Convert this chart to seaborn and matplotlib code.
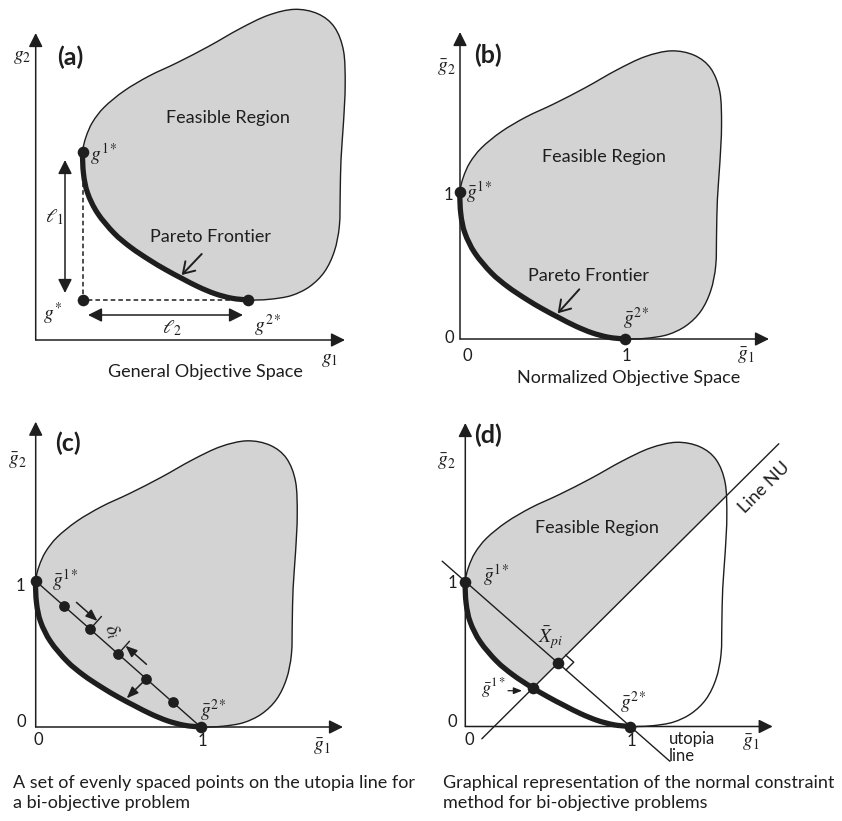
import numpy as np
import matplotlib
matplotlib.use("Agg")
import matplotlib.pyplot as plt
from matplotlib.path import Path
from matplotlib.patches import PathPatch, Polygon
import seaborn as sns

W, H = 842, 821

# feasible region boundary (normalized objective space), from g1* (0,1) over the top to g2* (1,0)
upper_x = [0.0, 0.02, 0.06, 0.13, 0.25, 0.40, 0.57, 0.76, 0.95, 1.12, 1.28, 1.42, 1.52,
           1.575, 1.585, 1.575, 1.56, 1.555, 1.55, 1.52, 1.46, 1.37, 1.26, 1.14, 1.05, 1.0]
upper_y = [1.0, 1.10, 1.20, 1.30, 1.41, 1.51, 1.60, 1.71, 1.83, 1.92, 1.96, 1.93, 1.84,
           1.68, 1.45, 1.20, 0.95, 0.72, 0.50, 0.33, 0.19, 0.09, 0.03, 0.006, 0.0, 0.0]
# pareto frontier, from g2* back to g1*
pareto_x = [1.0, 0.9, 0.8, 0.7, 0.6, 0.5, 0.4, 0.29, 0.19, 0.09, 0.03, 0.005, 0.0]
pareto_y = [0.0, 0.012, 0.042, 0.088, 0.145, 0.205, 0.272, 0.355, 0.45, 0.585, 0.72, 0.85, 1.0]

anchor_x = [0.0, 1.0]          # g1*, g2*
anchor_y = [1.0, 0.0]
ideal_x = [0.0]                # g* in panel (a)
ideal_y = [0.0]
utopia_pts_x = [0.17, 0.33, 0.50, 0.67, 0.83]
utopia_pts_y = [0.83, 0.67, 0.50, 0.33, 0.17]
utopia_ext_x = [-0.14, 1.24]
utopia_ext_y = [1.14, -0.24]
nu_x = [0.10, 1.90]
nu_y = [-0.085, 1.95]
xpi_x, xpi_y = [0.56], [0.44]
g1nu_x, g1nu_y = [0.41], [0.265]

INK = "#1e1e1e"
GRAY = "#d3d3d3"
FS = 13

sns.set_theme(style="white")
plt.rcParams["font.family"] = ["Lato", "DejaVu Sans"]
plt.rcParams["mathtext.fontset"] = "stix"

# panel box (px) and where the data origin / unit sit in pixels
panels = {
    "a": dict(box=(0, 0, 421, 410), origin=(82.7, 300), unit=(165.6, 148.3)),
    "b": dict(box=(421, 0, 421, 410), origin=(460, 339), unit=(165, 147)),
    "c": dict(box=(0, 410, 421, 411), origin=(35.7, 727), unit=(165, 146)),
    "d": dict(box=(421, 410, 421, 411), origin=(465.3, 726.5), unit=(165, 145)),
}


def to_data(k, px, py):
    ox, oy = panels[k]["origin"]
    ux, uy = panels[k]["unit"]
    return (px - ox) / ux, (oy - py) / uy


def to_px(k, x, y):
    ox, oy = panels[k]["origin"]
    ux, uy = panels[k]["unit"]
    return ox + x * ux, oy - y * uy


def bezier_segments(xs, ys):
    p = np.column_stack([xs, ys]).astype(float)
    n = len(p)
    segs = []
    for i in range(n):
        p0, p1, p2, p3 = p[(i - 1) % n], p[i], p[(i + 1) % n], p[(i + 2) % n]
        segs.append((p1, p1 + (p2 - p0) / 6, p2 - (p3 - p1) / 6, p2))
    return segs


def make_path(segs):
    verts = [segs[0][0]]
    codes = [Path.MOVETO]
    for s in segs:
        verts += [s[1], s[2], s[3]]
        codes += [Path.CURVE4] * 3
    return Path(verts, codes)


loop_x = upper_x + pareto_x[1:-1]
loop_y = upper_y + pareto_y[1:-1]
segs = bezier_segments(loop_x, loop_y)
outline_path = make_path(segs)
pareto_path = make_path(segs[len(upper_x) - 1:])

fig = plt.figure(figsize=(W / 100, H / 100), dpi=100)
axes = {}
for k, p in panels.items():
    bx, by, bw, bh = p["box"]
    ax = fig.add_axes([bx / W, 1 - (by + bh) / H, bw / W, bh / H])
    x0, y1 = to_data(k, bx, by)
    x1, y0 = to_data(k, bx + bw, by + bh)
    ax.set_xlim(x0, x1)
    ax.set_ylim(y0, y1)
    ax.axis("off")
    axes[k] = ax


def draw_region(ax, clip=None):
    fill = PathPatch(outline_path, facecolor=GRAY, edgecolor="none", zorder=1)
    ax.add_patch(fill)
    if clip is not None:
        fill.set_clip_path(clip)
    ax.add_patch(PathPatch(outline_path, facecolor="none", edgecolor=INK, lw=1.0, zorder=2))
    ax.add_patch(PathPatch(pareto_path, facecolor="none", edgecolor=INK, lw=3.8,
                           capstyle="round", zorder=4))


def arrow(ax, k, p_from, p_to, style="-|>,head_length=0.6,head_width=0.3", lw=1.1, ms=14):
    ax.annotate("", xy=to_data(k, *p_to), xytext=to_data(k, *p_from),
                arrowprops=dict(arrowstyle=style, color=INK, lw=lw, shrinkA=0, shrinkB=0,
                                mutation_scale=ms), zorder=6)


def axis_arrows(ax, k, corner, ytip, xtip):
    arrow(ax, k, corner, (corner[0], ytip))
    arrow(ax, k, corner, (xtip, corner[1]))


def label(px, py, s, size=FS, **kw):
    kw.setdefault("ha", "center")
    kw.setdefault("va", "center")
    fig.text(px / W, 1 - py / H, s, fontsize=size, color=INK, **kw)


def dots(ax, xs, ys, s=70):
    sns.scatterplot(x=xs, y=ys, ax=ax, color=INK, s=s, linewidth=0, zorder=5, legend=False)


def line(ax, xs, ys, **kw):
    sns.lineplot(x=xs, y=ys, ax=ax, color=INK, sort=False, estimator=None, zorder=3, **kw)


PARETO_ARROW = "->,head_length=0.55,head_width=0.35"

# ---------------- (a) ----------------
ax = axes["a"]
draw_region(ax)
line(ax, [0.0, 0.0, 1.0], [1.0, 0.0, 0.0], lw=1.1, linestyle=(0, (3, 2)))
dots(ax, anchor_x, anchor_y)
dots(ax, ideal_x, ideal_y)
axis_arrows(ax, "a", (35.7, 340), 33, 345)
arrow(ax, "a", (65, 160), (65, 293), style="<|-|>,head_length=0.6,head_width=0.3")
arrow(ax, "a", (88, 315), (243, 315), style="<|-|>,head_length=0.6,head_width=0.3")
arrow(ax, "a", (201.7, 254), (181.7, 275), style=PARETO_ARROW, lw=1.4)
label(70, 57, "(a)", 18, weight="bold")
label(22, 57, r"$g_2$", 14)
label(330, 360, r"$g_1$", 14)
label(228, 118, "Feasible Region")
label(210, 237, "Pareto Frontier")
label(205, 372, "General Objective Space")
label(90, 154, r"$g^{1*}$", 14, ha="left")
label(52, 314, r"$g^{*}$", 14)
label(268, 326, r"$g^{2*}$", 14)
label(54, 217, r"$\ell_1$", 14)
label(172, 328, r"$\ell_2$", 14)

# ---------------- (b) ----------------
ax = axes["b"]
draw_region(ax)
dots(ax, anchor_x, anchor_y)
axis_arrows(ax, "b", (460, 339), 32, 769)
arrow(ax, "b", (579.3, 289.3), (557.7, 313.3), style=PARETO_ARROW, lw=1.4)
label(488, 55, "(b)", 18, weight="bold")
label(446, 68, r"$\bar{g}_2$", 14)
label(448, 195, "1", 12)
label(449, 338, "0", 12)
label(467, 356, "0", 12)
label(626, 356, "1", 12)
label(746, 356, r"$\bar{g}_1$", 14)
label(466, 192, r"$\bar{g}^{1*}$", 14, ha="left")
label(636, 319, r"$\bar{g}^{2*}$", 14)
label(604, 157, "Feasible Region")
label(588, 276, "Pareto Frontier")
label(629, 378, "Normalized Objective Space")

# ---------------- (c) ----------------
ax = axes["c"]
draw_region(ax)
line(ax, anchor_x, anchor_y, lw=1.0)
dots(ax, anchor_x, anchor_y)
dots(ax, utopia_pts_x, utopia_pts_y, s=60)
axis_arrows(ax, "c", (35.7, 727), 421.7, 343)
# delta_i dimension marks
g1p = np.array(to_px("c", 0, 1))
g2p = np.array(to_px("c", 1, 0))
d = (g2p - g1p) / np.linalg.norm(g2p - g1p)
nrm = np.array([d[1], -d[0]])
for i, sgn in [(1, -1), (2, 1)]:
    pp = np.array(to_px("c", utopia_pts_x[i], utopia_pts_y[i]))
    tip = pp + nrm * 11
    arrow(ax, "c", tuple(pp + nrm * 5), tuple(pp + nrm * 17), style="-", lw=1.0)
    arrow(ax, "c", tuple(tip + sgn * d * 28), tuple(tip),
          style="-|>,head_length=0.5,head_width=0.2", lw=1.1)
p4 = to_px("c", utopia_pts_x[3], utopia_pts_y[3])
arrow(ax, "c", p4, (126.7, 698.3), style="-|>,head_length=0.5,head_width=0.2", lw=1.1)
label(68, 443, "(c)", 18, weight="bold")
label(17, 461, r"$\bar{g}_2$", 14)
label(20, 586, "1", 12)
label(21, 722, "0", 12)
label(38, 740, "0", 12)
label(202, 741, "1", 12)
label(322, 747, r"$\bar{g}_1$", 14)
label(52, 580, r"$\bar{g}^{1*}$", 14, ha="left")
label(213, 711, r"$\bar{g}^{2*}$", 14)
label(112, 631, r"$\delta_i$", 14, rotation=-65)
label(13, 775, "A set of evenly spaced points on the utopia line for\na bi-objective problem",
      ha="left", va="top", linespacing=1.3)

# ---------------- (d) ----------------
ax = axes["d"]
p0 = np.array([nu_x[0], nu_y[0]])
dv = np.array([nu_x[1] - nu_x[0], nu_y[1] - nu_y[0]])
dv = dv / np.linalg.norm(dv)
nv = np.array([-dv[1], dv[0]])
half = Polygon([p0 - 5 * dv, p0 + 5 * dv, p0 + 5 * dv + 5 * nv, p0 - 5 * dv + 5 * nv],
               closed=True, transform=ax.transData)
draw_region(ax, clip=half)
line(ax, utopia_ext_x, utopia_ext_y, lw=1.0)
line(ax, nu_x, nu_y, lw=1.0)
dots(ax, anchor_x, anchor_y)
dots(ax, xpi_x, xpi_y)
dots(ax, g1nu_x, g1nu_y)
axis_arrows(ax, "d", (465.3, 726.5), 423, 772.7)
# right-angle mark at X_pi
xp = np.array(to_px("d", xpi_x[0], xpi_y[0]))
a_px = np.array(to_px("d", nu_x[1], nu_y[1])) - np.array(to_px("d", nu_x[0], nu_y[0]))
u = a_px / np.linalg.norm(a_px)
b_px = np.array(to_px("d", utopia_ext_x[1], utopia_ext_y[1])) - np.array(to_px("d", utopia_ext_x[0], utopia_ext_y[0]))
v = b_px / np.linalg.norm(b_px)
sq = [xp + 11 * u, xp + 11 * u + 11 * v, xp + 11 * v]
sq_d = [to_data("d", *q) for q in sq]
line(ax, [q[0] for q in sq_d], [q[1] for q in sq_d], lw=1.0)
arrow(ax, "d", (508, 690.7), (522, 690.7), style="-|>,head_length=0.5,head_width=0.2", lw=0.9, ms=10)
label(488, 435, "(d)", 18, weight="bold")
label(446, 462, r"$\bar{g}_2$", 14)
label(452, 583, "1", 12)
label(452, 722, "0", 12)
label(469, 740, "0", 12)
label(631, 741, "1", 12)
label(751, 743, r"$\bar{g}_1$", 14)
label(597, 528, "Feasible Region")
label(764, 488, "Line NU", rotation=45)
label(496, 575, r"$\bar{g}^{1*}$", 14)
label(551, 638, r"$\bar{X}_{pi}$", 14)
label(493, 688, r"$\bar{g}^{1*}$", 13)
label(633, 703, r"$\bar{g}^{2*}$", 14)
label(669, 731, "utopia\nline", 12, ha="left", va="top", linespacing=1.05)
label(443, 775, "Graphical representation of the normal constraint\nmethod for bi-objective problems",
      ha="left", va="top", linespacing=1.3)

fig.savefig("out.png", dpi=100)
